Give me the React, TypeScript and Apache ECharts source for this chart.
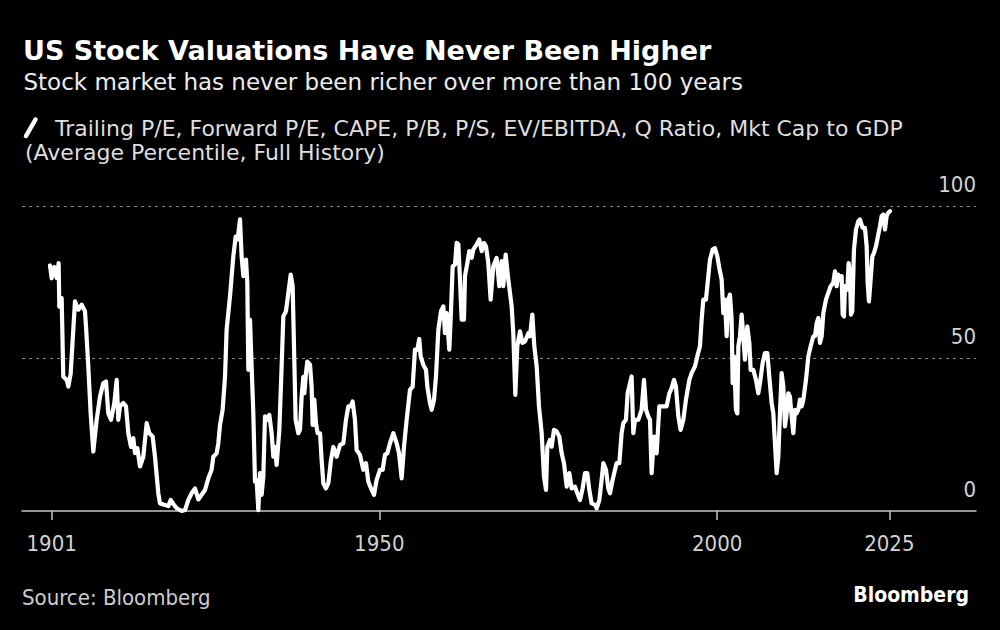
import React, { useEffect, useRef } from "react";
import * as echarts from "echarts";

const years = [
  1901.27, 1901.52, 1901.91, 1902.26, 1902.55, 1902.65, 1903.0, 1903.24, 1903.74, 1903.99,
  1904.33, 1904.97, 1905.46, 1905.96, 1906.45, 1906.6, 1906.94, 1907.29, 1907.68, 1908.18,
  1908.67, 1909.16, 1909.56, 1909.9, 1910.3, 1910.79, 1911.14, 1911.38, 1911.63, 1912.12,
  1912.52, 1912.86, 1913.26, 1913.6, 1913.85, 1914.2, 1914.59, 1915.08, 1915.58, 1915.97,
  1916.46, 1916.81, 1917.3, 1917.55, 1918.29, 1918.78, 1919.13, 1919.52, 1920.02, 1920.76,
  1921.25, 1921.74, 1922.23, 1922.73, 1923.22, 1923.71, 1924.21, 1924.7, 1925.19, 1925.44,
  1925.93, 1926.18, 1926.43, 1926.82, 1927.17, 1927.41, 1927.91, 1928.4, 1928.75, 1929.04,
  1929.39, 1929.63, 1929.88, 1930.28, 1930.47, 1930.62, 1930.87, 1931.11, 1931.36, 1931.61,
  1931.85, 1932.1, 1932.35, 1932.59, 1932.84, 1933.09, 1933.33, 1933.73, 1934.07, 1934.32,
  1934.57, 1934.81, 1935.21, 1935.55, 1935.8, 1936.19, 1936.54, 1936.89, 1937.18, 1937.38,
  1937.62, 1938.02, 1938.27, 1938.51, 1938.76, 1938.91, 1939.15, 1939.35, 1939.75, 1939.99,
  1940.14, 1940.39, 1940.63, 1940.88, 1941.23, 1941.47, 1941.72, 1942.11, 1942.46, 1942.85,
  1943.2, 1943.69, 1944.19, 1944.68, 1945.07, 1945.42, 1945.76, 1946.06, 1946.4, 1946.65,
  1947.14, 1947.64, 1948.03, 1948.38, 1948.87, 1949.22, 1949.61, 1950.1, 1950.5, 1950.84,
  1951.19, 1951.58, 1952.08, 1952.57, 1952.92, 1953.31, 1953.66, 1954.05, 1954.54, 1954.94,
  1955.28, 1955.63, 1955.92, 1956.12, 1956.52, 1956.91, 1957.11, 1957.5, 1957.75, 1958.1,
  1958.39, 1958.74, 1959.13, 1959.48, 1959.72, 1959.97, 1960.36, 1960.56, 1960.86, 1961.2,
  1961.45, 1961.7, 1961.94, 1962.19, 1962.53, 1962.68, 1963.03, 1963.32, 1963.67, 1963.91,
  1964.41, 1964.8, 1965.15, 1965.49, 1965.79, 1966.13, 1966.48, 1966.87, 1967.37, 1967.76,
  1968.11, 1968.35, 1968.7, 1969.09, 1969.59, 1969.83, 1970.13, 1970.42, 1970.82, 1971.17,
  1971.56, 1972.05, 1972.3, 1972.65, 1972.94, 1973.29, 1973.63, 1974.03, 1974.37, 1974.67,
  1974.87, 1975.26, 1975.51, 1975.85, 1976.25, 1976.64, 1976.99, 1977.33, 1977.73, 1978.12,
  1978.47, 1978.96, 1979.3, 1979.7, 1980.09, 1980.44, 1980.78, 1981.08, 1981.42, 1981.92,
  1982.17, 1982.56, 1982.9, 1983.15, 1983.55, 1983.89, 1984.14, 1984.53, 1984.88, 1985.12,
  1985.52, 1985.86, 1986.11, 1986.5, 1986.75, 1987.1, 1987.34, 1987.59, 1987.84, 1988.33,
  1988.82, 1989.17, 1989.47, 1989.81, 1990.06, 1990.3, 1990.65, 1991.04, 1991.44, 1991.78,
  1992.03, 1992.52, 1992.92, 1993.26, 1993.61, 1993.9, 1994.25, 1994.59, 1994.99, 1995.38,
  1995.88, 1996.22, 1996.71, 1997.06, 1997.45, 1997.7, 1997.95, 1998.34, 1998.69, 1998.93,
  1999.33, 1999.67, 2000.02, 2000.32, 2000.66, 2000.91, 2001.15, 2001.4, 2001.65, 2001.89,
  2002.14, 2002.29, 2002.49, 2002.78, 2002.98, 2003.13, 2003.37, 2003.62, 2003.87, 2004.11,
  2004.46, 2004.76, 2004.95, 2005.35, 2005.74, 2006.09, 2006.33, 2006.73, 2007.07, 2007.42,
  2007.71, 2008.06, 2008.31, 2008.55, 2008.8, 2009.05, 2009.29, 2009.54, 2009.79, 2010.03,
  2010.28, 2010.53, 2010.77, 2011.02, 2011.27, 2011.51, 2011.76, 2012.01, 2012.25, 2012.5,
  2012.75, 2013.14, 2013.49, 2013.83, 2014.23, 2014.47, 2014.72, 2014.97, 2015.21, 2015.46,
  2015.71, 2016.1, 2016.44, 2016.79, 2017.18, 2017.43, 2017.68, 2017.92, 2018.17, 2018.42,
  2018.57, 2018.76, 2018.91, 2019.26, 2019.45, 2019.65, 2019.8, 2019.99, 2020.24, 2020.54,
  2020.88, 2021.13, 2021.52, 2021.87, 2022.12, 2022.27, 2022.46, 2022.71, 2022.96, 2023.2,
  2023.5, 2023.84, 2024.09, 2024.34, 2024.58, 2024.83, 2025.08, 2025.32, 2025.57,
];

// Average percentile of the valuation measures (full history)
const percentile = [
  80.5, 76.3, 80.0, 76.4, 81.3, 67.0, 69.8, 44.0, 43.0, 40.8,
  45.0, 68.7, 66.0, 67.6, 65.5, 60.5, 47.4, 32.0, 19.5, 29.9,
  37.5, 41.9, 42.5, 32.0, 29.9, 35.4, 43.0, 29.9, 34.3, 35.4,
  34.3, 25.5, 21.0, 23.9, 19.0, 20.6, 14.6, 17.8, 28.8, 25.5,
  24.4, 17.8, 5.8, 2.5, 2.0, 1.6, 3.6, 2.3, 0.9, 0.0,
  0.3, 3.6, 5.8, 7.4, 3.8, 5.3, 6.9, 10.7, 13.5, 17.8,
  18.9, 22.2, 28.2, 33.2, 44.0, 59.4, 70.4, 83.5, 90.0, 89.0,
  95.6, 83.5, 77.0, 82.4, 74.8, 46.3, 62.7, 47.4, 32.0, 9.6,
  10.2, 0.3, 12.4, 5.3, 11.3, 31.0, 29.9, 31.5, 25.5, 17.8,
  21.0, 15.1, 26.6, 47.4, 63.8, 65.5, 71.5, 77.5, 73.7, 54.0,
  29.9, 25.5, 26.6, 37.5, 44.0, 38.6, 45.2, 49.0, 48.0, 40.8,
  28.2, 36.5, 28.8, 25.5, 25.5, 16.7, 9.1, 7.4, 9.1, 16.7,
  21.0, 17.8, 21.7, 22.2, 29.9, 34.3, 34.3, 35.9, 29.9, 20.0,
  18.4, 13.5, 15.7, 9.6, 6.9, 5.3, 10.2, 13.5, 13.5, 18.4,
  18.9, 22.2, 25.5, 22.2, 18.9, 10.7, 21.1, 29.9, 39.7, 40.8,
  52.9, 52.9, 56.4, 50.7, 47.9, 46.3, 40.8, 35.4, 33.2, 36.5,
  44.1, 59.4, 65.5, 67.1, 58.3, 64.9, 52.9, 62.7, 80.2, 80.8,
  87.9, 87.4, 75.9, 62.7, 62.7, 77.0, 81.3, 85.2, 83.0, 85.7,
  87.4, 89.0, 85.2, 87.9, 86.8, 81.3, 69.3, 80.2, 83.0, 73.7,
  81.9, 73.7, 84.1, 75.9, 67.1, 58.3, 38.1, 54.0, 58.9, 55.1,
  55.6, 58.3, 57.3, 64.4, 54.0, 47.4, 34.3, 25.5, 11.3, 6.9,
  21.1, 23.3, 21.1, 26.6, 26.1, 24.4, 18.9, 15.7, 8.0, 12.4,
  7.4, 8.0, 5.8, 3.6, 7.4, 12.4, 12.4, 6.9, 2.5, 2.0,
  0.9, 3.6, 10.2, 15.7, 13.5, 7.4, 5.8, 10.2, 13.5, 15.7,
  15.7, 25.5, 28.8, 29.9, 38.6, 41.9, 44.1, 25.5, 29.9, 29.9,
  33.2, 43.0, 33.2, 31.0, 29.9, 12.4, 24.4, 18.9, 34.3, 34.3,
  34.3, 34.3, 38.6, 40.3, 43.0, 40.8, 31.0, 26.6, 29.9, 36.5,
  43.0, 45.2, 47.4, 50.7, 54.0, 62.7, 69.3, 69.3, 77.0, 82.4,
  85.7, 86.2, 83.5, 79.6, 75.9, 64.9, 69.3, 57.3, 69.3, 70.9,
  62.7, 41.9, 50.7, 33.2, 32.0, 54.0, 57.3, 64.4, 57.3, 49.6,
  60.5, 55.1, 46.3, 46.3, 43.0, 38.6, 41.9, 48.5, 51.8, 51.8,
  44.1, 35.4, 32.0, 22.2, 12.4, 17.8, 32.0, 45.2, 40.8, 27.7,
  32.0, 38.6, 37.5, 31.0, 25.5, 33.2, 32.0, 33.2, 36.5, 34.3,
  36.5, 43.0, 50.7, 54.0, 57.3, 57.3, 61.6, 63.3, 55.1, 57.3,
  64.9, 69.3, 71.5, 73.7, 74.8, 78.6, 73.7, 77.5, 75.9, 77.0,
  64.4, 63.8, 73.7, 72.6, 81.3, 78.0, 64.4, 65.5, 85.7, 92.3,
  95.0, 95.6, 92.8, 92.8, 86.8, 74.8, 68.7, 75.9, 83.5, 84.6,
  86.8, 90.6, 93.4, 96.7, 97.2, 92.3, 96.7, 97.8, 98.3,
];

const xTickValues = [1901.52, 1950, 2000, 2025.47];
const xTickLabels = ["1901", "1950", "2000", "2025"];
const yTickLabels = ["0", "50", "100"];

const titleText = "US Stock Valuations Have Never Been Higher";
const subtitleText = "Stock market has never been richer over more than 100 years";
const legendLine1 = "Trailing P/E, Forward P/E, CAPE, P/B, P/S, EV/EBITDA, Q Ratio, Mkt Cap to GDP";
const legendLine2 = "(Average Percentile, Full History)";
const sourceText = "Source: Bloomberg";
const brandText = "Bloomberg";

export default function App() {
  const ref = useRef<HTMLDivElement>(null);

  useEffect(() => {
    document.body.style.margin = "0";
    document.body.style.background = "#000";
    if (!ref.current) return;
    const chart = echarts.init(ref.current, null, { renderer: "svg" });
    const data = years.map((y, i) => [y, percentile[i]]);
    const font = "DejaVu Sans";
    const condensed = "DejaVu Sans Condensed";

    chart.setOption({
      animation: false,
      backgroundColor: "#000000",
      grid: { left: 22, right: 24, top: 206, bottom: 119, containLabel: false },
      xAxis: {
        type: "value",
        min: 1897.13,
        max: 2038.3,
        splitLine: { show: false },
        axisLine: { show: true, lineStyle: { color: "#c4c4c4", width: 1.5 } },
        axisTick: {
          show: true,
          customValues: xTickValues,
          length: 9,
          lineStyle: { color: "#c4c4c4", width: 1.5 },
        },
        axisLabel: {
          customValues: xTickValues,
          formatter: (v: number) => {
            const idx = xTickValues.findIndex((t) => Math.abs(t - v) < 0.01);
            return idx >= 0 ? xTickLabels[idx] : "";
          },
          margin: 21,
          color: "#d2d2d2",
          fontSize: 22,
          fontFamily: condensed,
        },
      },
      yAxis: {
        type: "value",
        position: "right",
        min: 0,
        max: 100,
        interval: 50,
        axisLine: { show: false },
        axisTick: { show: false },
        splitLine: {
          show: true,
          showMinLine: false,
          lineStyle: { color: "#8a8a8a", width: 1, type: [3, 4] },
        },
        axisLabel: {
          inside: true,
          margin: 0,
          align: "right",
          verticalAlign: "bottom",
          lineHeight: 44,
          formatter: (v: number) => yTickLabels[Math.round(v / 50)] ?? "",
          color: "#d2d2d2",
          fontSize: 22,
          fontFamily: condensed,
        },
      },
      series: [
        {
          type: "line",
          data,
          showSymbol: false,
          symbol: "none",
          clip: false,
          lineStyle: { color: "#ffffff", width: 4.2, join: "round", cap: "round" },
          z: 3,
        },
      ],
      graphic: [
        {
          type: "text",
          x: 23,
          y: 36.5,
          style: {
            text: titleText,
            fill: "#ffffff",
            fontSize: 27,
            fontWeight: "bold",
            fontFamily: font,
            verticalAlign: "top",
            align: "left",
          },
        },
        {
          type: "text",
          x: 23.5,
          y: 70.5,
          style: {
            text: subtitleText,
            fill: "#ececec",
            fontSize: 23,
            fontFamily: font,
            verticalAlign: "top",
            align: "left",
          },
        },
        {
          type: "line",
          shape: { x1: 26, y1: 136, x2: 35.5, y2: 119.5 },
          style: { stroke: "#ffffff", lineWidth: 4.5, lineCap: "round" },
        },
        {
          type: "text",
          x: 55,
          y: 117.4,
          style: {
            text: legendLine1,
            fill: "#dedede",
            fontSize: 22,
            fontFamily: font,
            verticalAlign: "top",
            align: "left",
          },
        },
        {
          type: "text",
          x: 25,
          y: 141.4,
          style: {
            text: legendLine2,
            fill: "#dedede",
            fontSize: 22,
            fontFamily: font,
            verticalAlign: "top",
            align: "left",
          },
        },
        {
          type: "text",
          x: 22,
          y: 586.4,
          style: {
            text: sourceText,
            fill: "#cccccc",
            fontSize: 22,
            fontFamily: condensed,
            verticalAlign: "top",
            align: "left",
          },
        },
        {
          type: "text",
          x: 969,
          y: 584,
          style: {
            text: brandText,
            fill: "#ffffff",
            fontSize: 21,
            fontWeight: "bold",
            fontFamily: condensed,
            verticalAlign: "top",
            align: "right",
          },
        },
      ],
    });

    return () => chart.dispose();
  }, []);

  return (
    <div
      ref={ref}
      style={{ position: "fixed", left: 0, top: 0, width: 1000, height: 630, background: "#000" }}
    />
  );
}
